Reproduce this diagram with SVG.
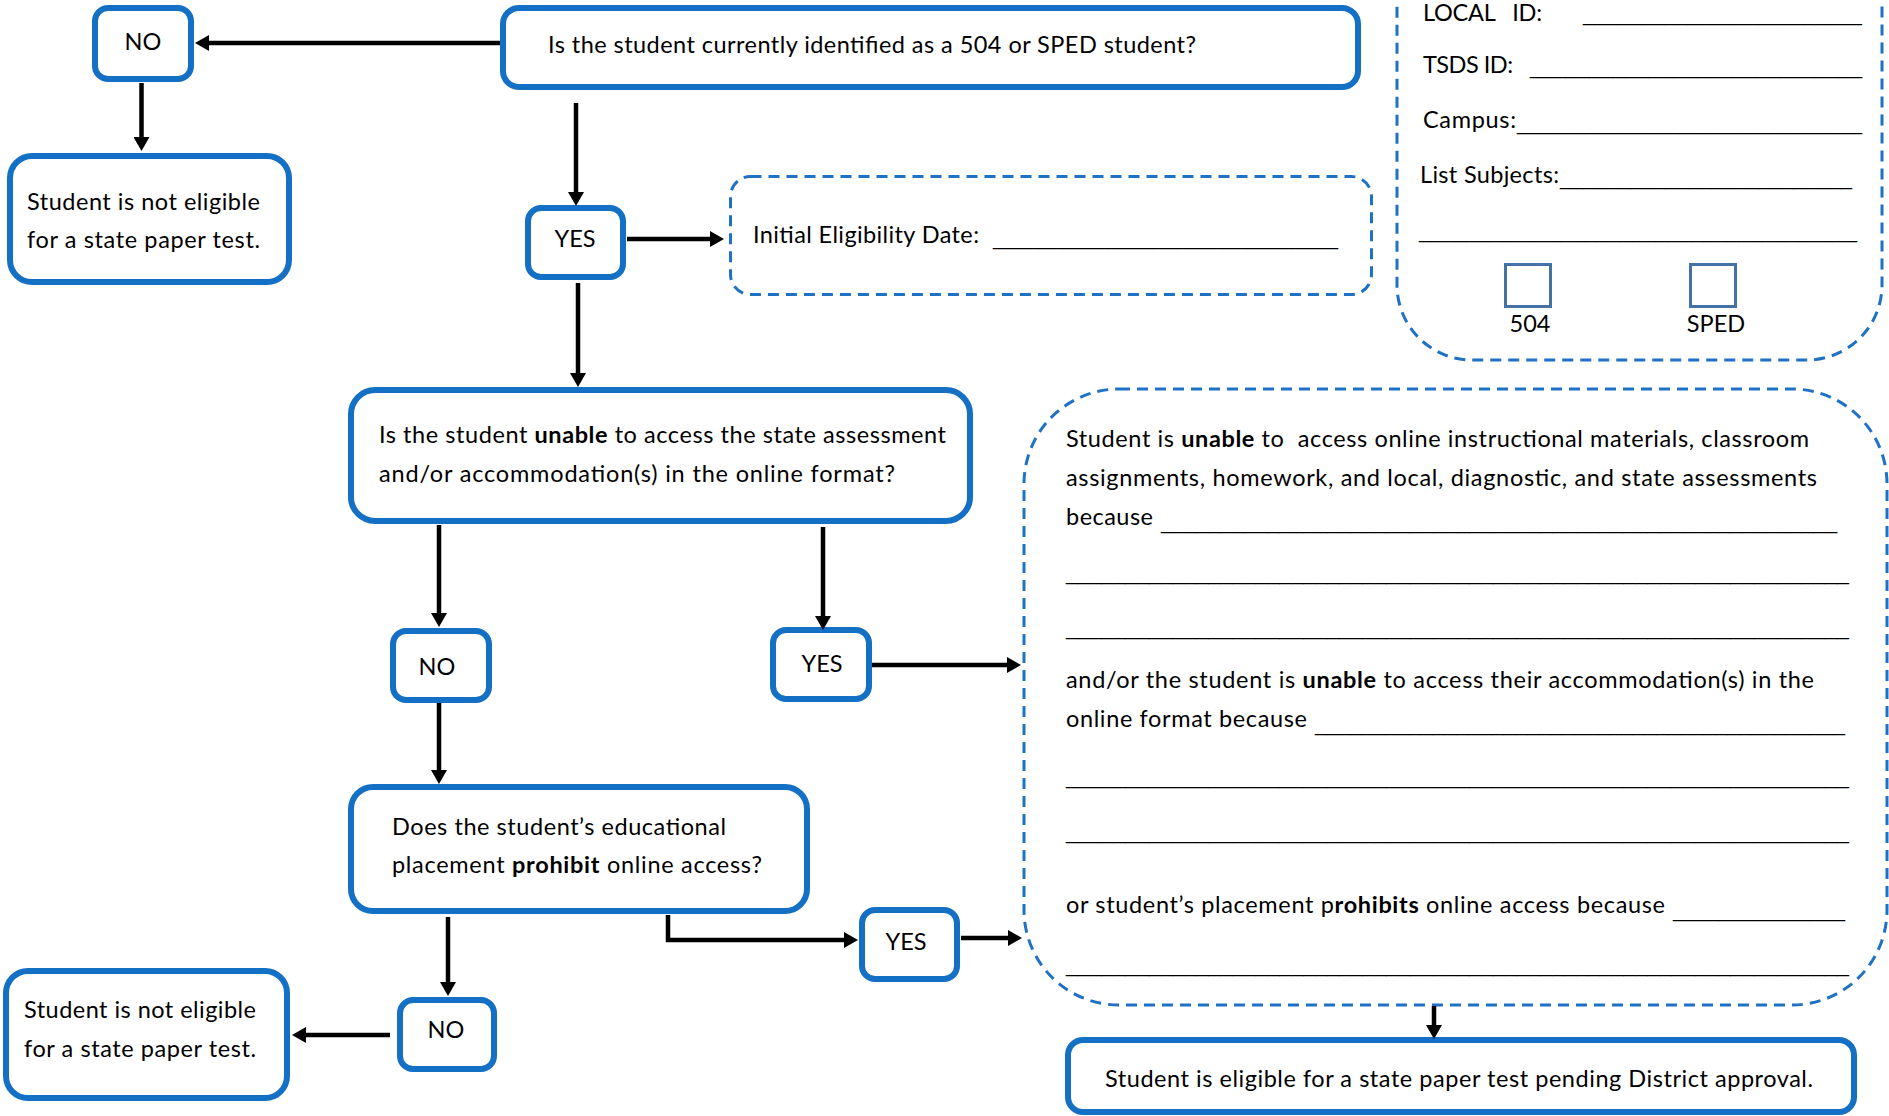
<svg xmlns="http://www.w3.org/2000/svg" width="1889" height="1116" viewBox="0 0 1889 1116">
<style>
.box{fill:#fff;stroke:#1470C4;stroke-width:6}
.dash{fill:none;stroke:#1F71C6;stroke-width:3;stroke-dasharray:11 7}
.chk{fill:#fff;stroke:#4472A6;stroke-width:3}
.t{font-family:Lato,"Liberation Sans",sans-serif;font-size:23.5px;fill:#000}
.u{font-family:"Liberation Sans",Arial,sans-serif;font-size:22px;fill:#000}
.b{font-weight:bold}
.c{text-anchor:middle}
.conn path{stroke:#000;stroke-width:4.5;fill:none;marker-end:url(#ah)}
</style>
<defs>
<marker id="ah" markerUnits="userSpaceOnUse" markerWidth="14" markerHeight="16" refX="1" refY="8" orient="auto">
<path d="M0,0 L14,8 L0,16 z" fill="#000"/>
</marker>
</defs>
<rect width="1889" height="1116" fill="#fff"/>

<g id="form-box">
<rect class="dash" x="1397" y="-120" width="485" height="480" rx="75"/>
<text class="t" x="1423" y="21" xml:space="preserve" textLength="119">LOCAL   ID:</text>
<text class="u" x="1583" y="21" textLength="279" lengthAdjust="spacingAndGlyphs">________________________</text>
<text class="t" x="1423" y="73" textLength="90">TSDS ID:</text>
<text class="u" x="1530" y="74" textLength="332" lengthAdjust="spacingAndGlyphs">____________________________</text>
<text class="t" x="1423" y="128" textLength="93">Campus:</text>
<text class="u" x="1517" y="130" textLength="345" lengthAdjust="spacingAndGlyphs">______________________________</text>
<text class="t" x="1420" y="183" textLength="139">List Subjects:</text>
<text class="u" x="1560" y="185" textLength="292" lengthAdjust="spacingAndGlyphs">_________________________</text>
<text class="u" x="1419" y="238" textLength="438" lengthAdjust="spacingAndGlyphs">_____________________________________</text>
<rect class="chk" x="1505.5" y="264.5" width="45" height="42"/>
<rect class="chk" x="1690.5" y="264.5" width="45" height="42"/>
<text class="t c" x="1530" y="332">504</text>
<text class="t c" x="1716" y="332">SPED</text>
</g>

<g id="q1">
<rect class="box" x="503" y="8" width="855" height="79" rx="16"/>
<text class="t" x="548" y="53" textLength="648">Is the student currently identified as a 504 or SPED student?</text>
</g>

<g id="no1">
<rect class="box" x="95" y="8" width="96" height="71" rx="13"/>
<text class="t c" x="143" y="50">NO</text>
</g>

<g id="not-eligible-1">
<rect class="box" x="10" y="156" width="279" height="126" rx="22"/>
<text class="t" x="27" y="210" textLength="233">Student is not eligible</text>
<text class="t" x="27" y="248" textLength="233">for a state paper test.</text>
</g>

<g id="yes1">
<rect class="box" x="528" y="208" width="95" height="69" rx="13"/>
<text class="t c" x="575" y="247">YES</text>
</g>

<g id="eligibility-date">
<rect class="dash" x="730.5" y="176.5" width="641" height="118" rx="20"/>
<text class="t" x="753" y="243" textLength="226">Initial Eligibility Date:</text>
<text class="u" x="993" y="245" textLength="345" lengthAdjust="spacingAndGlyphs">______________________________</text>
</g>

<g id="q2">
<rect class="box" x="351" y="390" width="619" height="131" rx="24"/>
<text class="t" x="379" y="443" textLength="567">Is the student <tspan class="b">unable</tspan> to access the state assessment</text>
<text class="t" x="379" y="482" textLength="516">and/or accommodation(s) in the online format?</text>
</g>

<g id="no2">
<rect class="box" x="393" y="631" width="96" height="69" rx="13"/>
<text class="t c" x="437" y="675">NO</text>
</g>

<g id="yes2">
<rect class="box" x="773" y="630" width="96" height="69" rx="13"/>
<text class="t c" x="822" y="672">YES</text>
</g>

<g id="reasons">
<rect class="dash" x="1024" y="389" width="863" height="616" rx="95"/>
<text class="t" x="1066" y="447" xml:space="preserve" textLength="743">Student is <tspan class="b">unable</tspan> to  access online instructional materials, classroom</text>
<text class="t" x="1066" y="486" textLength="751">assignments, homework, and local, diagnostic, and state assessments</text>
<text class="t" x="1066" y="525" textLength="87">because</text>
<text class="u" x="1161" y="529" textLength="676" lengthAdjust="spacingAndGlyphs">_________________________________________________________</text>
<text class="u" x="1066" y="580" textLength="783" lengthAdjust="spacingAndGlyphs">__________________________________________________________________</text>
<text class="u" x="1066" y="635" textLength="783" lengthAdjust="spacingAndGlyphs">__________________________________________________________________</text>
<text class="t" x="1066" y="688" textLength="748">and/or the student is <tspan class="b">unable</tspan> to access their accommodation(s) in the</text>
<text class="t" x="1066" y="727" textLength="241">online format because</text>
<text class="u" x="1315" y="731" textLength="530" lengthAdjust="spacingAndGlyphs">_____________________________________________</text>
<text class="u" x="1066" y="784" textLength="783" lengthAdjust="spacingAndGlyphs">__________________________________________________________________</text>
<text class="u" x="1066" y="839" textLength="783" lengthAdjust="spacingAndGlyphs">__________________________________________________________________</text>
<text class="t" x="1066" y="913" textLength="599">or student’s placement p<tspan class="b">rohibits</tspan> online access because</text>
<text class="u" x="1673" y="917" textLength="172" lengthAdjust="spacingAndGlyphs">_______________</text>
<text class="u" x="1066" y="972" textLength="783" lengthAdjust="spacingAndGlyphs">__________________________________________________________________</text>
</g>

<g id="q3">
<rect class="box" x="351" y="787" width="456" height="124" rx="22"/>
<text class="t" x="392" y="835" textLength="334">Does the student’s educational</text>
<text class="t" x="392" y="873" textLength="370">placement <tspan class="b">prohibit</tspan> online access?</text>
</g>

<g id="no3">
<rect class="box" x="400" y="1000" width="94" height="69" rx="13"/>
<text class="t c" x="446" y="1038">NO</text>
</g>

<g id="not-eligible-2">
<rect class="box" x="6" y="971" width="281" height="127" rx="22"/>
<text class="t" x="24" y="1018" textLength="232">Student is not eligible</text>
<text class="t" x="24" y="1057" textLength="232">for a state paper test.</text>
</g>

<g id="yes3">
<rect class="box" x="862" y="910" width="95" height="69" rx="13"/>
<text class="t c" x="906" y="950">YES</text>
</g>

<g id="eligible">
<rect class="box" x="1068" y="1040" width="786" height="72" rx="15"/>
<text class="t" x="1105" y="1087" textLength="708">Student is eligible for a state paper test pending District approval.</text>
</g>

<g id="connectors" class="conn">
<path d="M500,43 L208,43"/>
<path d="M141.5,83 L141.5,138"/>
<path d="M576,103 L576,193"/>
<path d="M627,239 L711,239"/>
<path d="M578,283 L578,374"/>
<path d="M439,525 L439,614"/>
<path d="M823,527 L823,617"/>
<path d="M872,665 L1008,665"/>
<path d="M439,703 L439,771"/>
<path d="M448,917 L448,983"/>
<path d="M390,1035 L305,1035"/>
<path d="M668,915 L668,940 L845,940"/>
<path d="M961,938 L1009,938"/>
<path d="M1434,1006 L1434,1026"/>
</g>
</svg>
